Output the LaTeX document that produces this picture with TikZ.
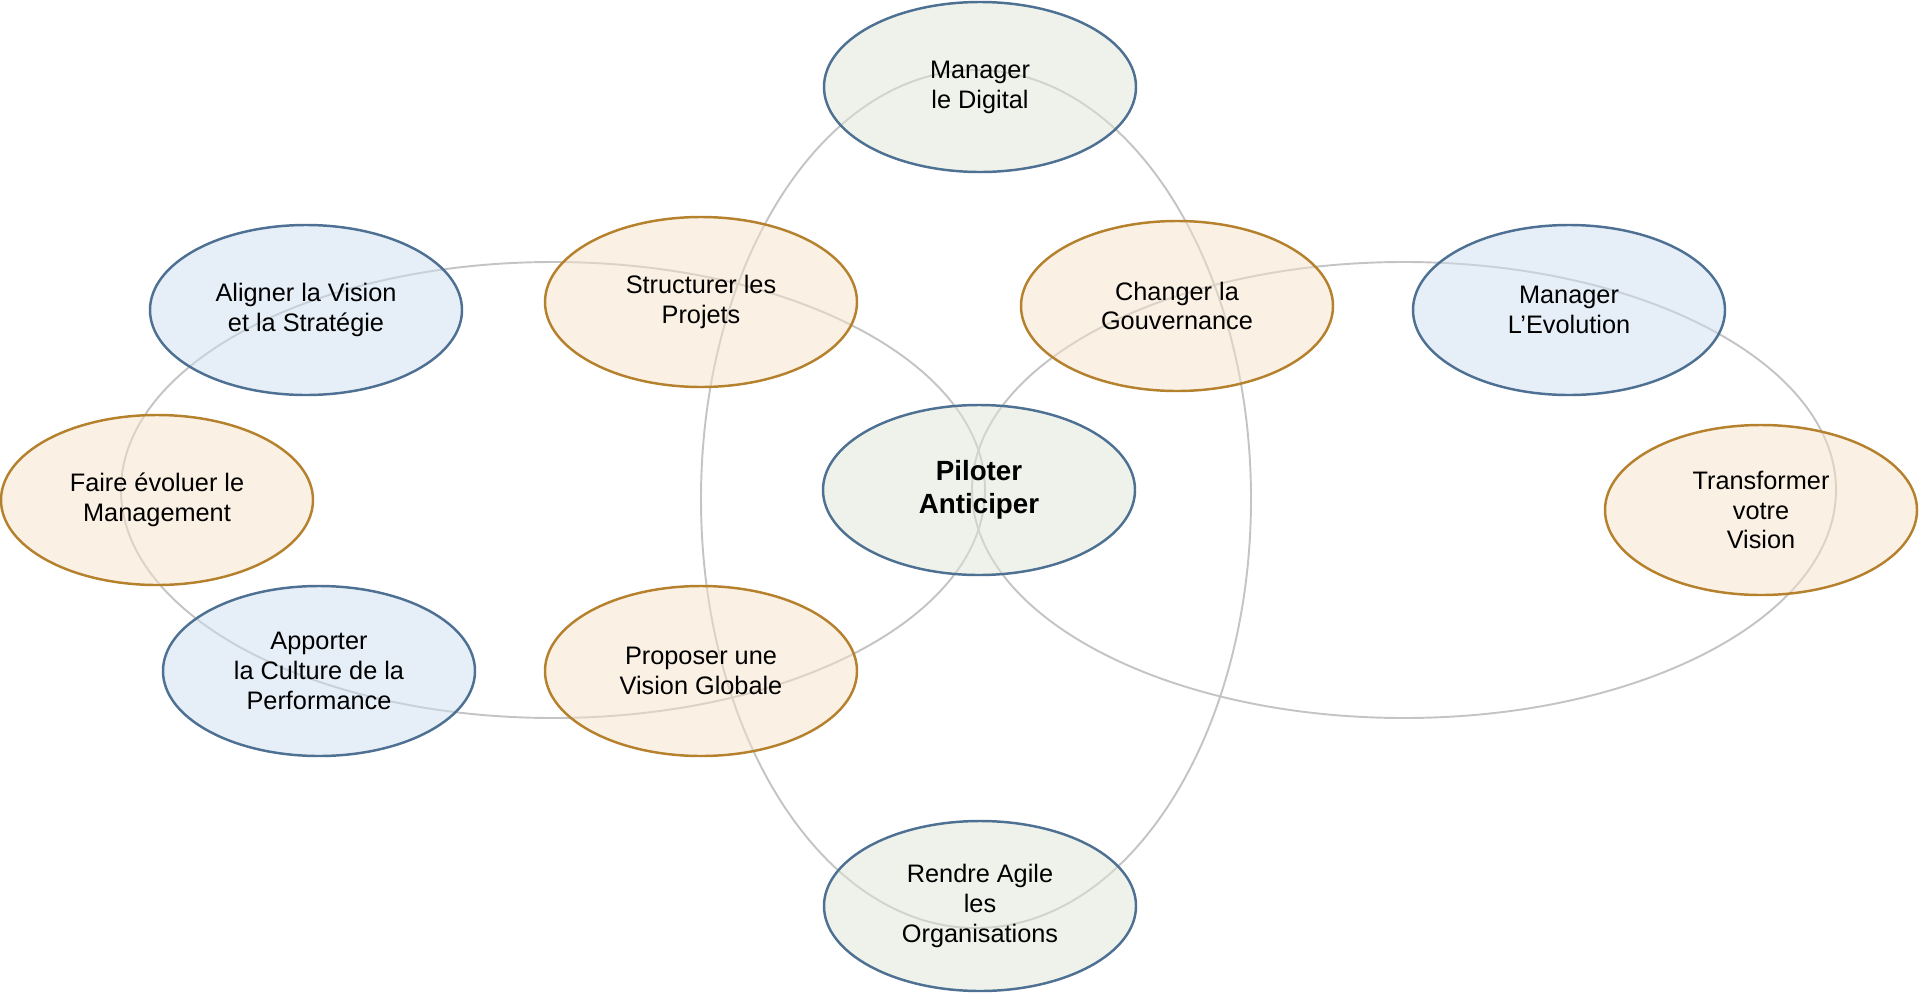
\documentclass[tikz,border=0pt]{standalone}
\usepackage{fontspec}
\setmainfont{Liberation Sans}
\usetikzlibrary{shapes.geometric}
\definecolor{ringgrey}{HTML}{C4C4C4}
\definecolor{bluedge}{HTML}{4D7093}
\definecolor{bluefill}{HTML}{CDDDEF}
\definecolor{goldedge}{HTML}{B5812C}
\definecolor{goldfill}{HTML}{F5E1C9}
\definecolor{sagefill}{HTML}{DDE5D5}
\tikzset{
  bubble/.style={ellipse, minimum width=62.4mm, minimum height=34mm, inner sep=0pt,
                 line width=1.4pt, align=center, fill opacity=0.5, text opacity=1,
                 font=\fontsize{14.4}{17}\selectfont},
  bluebub/.style={bubble, draw=bluedge, fill=bluefill},
  goldbub/.style={bubble, draw=goldedge, fill=goldfill},
  sagebub/.style={bubble, draw=bluedge, fill=sagefill},
  ring/.style={draw=ringgrey, line width=1.1pt}
}

\begin{document}
\begin{tikzpicture}[x=0.2mm,y=-0.2mm]
        \useasboundingbox (0,0) rectangle (1920,994);
        % grey rings behind the bubbles
        \draw[ring] (553,490) ellipse [x radius=86.4mm, y radius=45.6mm];
        \draw[ring] (1404,490) ellipse [x radius=86.4mm, y radius=45.6mm];
        \draw[ring] (976,499) ellipse [x radius=55mm, y radius=85.8mm];

        \node[sagebub] (digital) at (980,87) {Manager\\le Digital};
        \node[bluebub] (aligner) at (306,310) {Aligner la Vision\\et la Stratégie};
        \node[goldbub] (structurer) at (701,302) {Structurer les\\Projets};
        \node[goldbub] (changer) at (1177,306) {Changer la\\Gouvernance};
        \node[bluebub] (evolution) at (1569,310) {Manager\\L’Evolution};
        \node[goldbub] (faire) at (157,500) {Faire évoluer le\\Management};
        \node[sagebub,font=\fontsize{15.8}{18.5}\selectfont\bfseries] (piloter) at (979,490) {Piloter\\Anticiper};
        \node[goldbub] (transformer) at (1761,510) {Transformer\\votre\\Vision};
        \node[bluebub] (apporter) at (319,671) {Apporter\\la Culture de la\\Performance};
        \node[goldbub] (proposer) at (701,671) {Proposer une\\Vision Globale};
        \node[sagebub] (agile) at (980,906) {Rendre Agile\\les\\Organisations};
      \end{tikzpicture}
\end{document}
